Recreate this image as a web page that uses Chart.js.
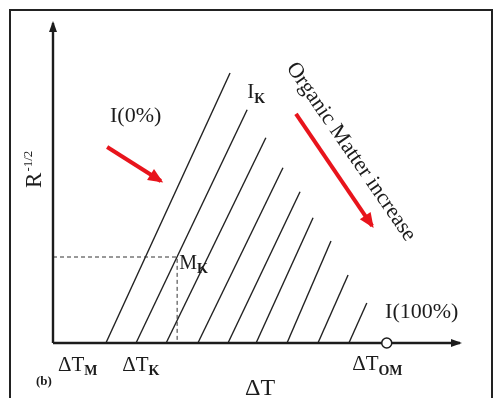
<!DOCTYPE html>
<html>
<head>
<meta charset="utf-8">
<script src="https://cdn.jsdelivr.net/npm/chart.js@4"></script>
<style>
  html, body { margin: 0; padding: 0; background: #fff; }
  canvas { display: block; }
</style>
</head>
<body>
<canvas id="chart" width="493" height="398"></canvas>
<script>
// x = ΔT, y = R^-1/2 (arbitrary units)
const xMax = 10;
const yMax = 8;

// iso-organic-matter lines: foot on the ΔT axis, top end
const lineBaseX = [1.30, 2.04, 2.78, 3.56, 4.30, 4.99, 5.75, 6.51, 7.27];
const lineTopX  = [4.35, 4.77, 5.23, 5.65, 6.07, 6.39, 6.83, 7.25, 7.71];
const lineTopY  = [6.75, 5.83, 5.13, 4.38, 3.78, 3.13, 2.55, 1.70, 1.00];

// point M_K on line I_K, and ΔT_OM
const mkX = 3.05;
const mkY = 2.15;
const omX = 8.2;

// red arrows [from, to]
const arrow1 = [[1.33, 4.90], [2.65, 4.05]];
const arrow2 = [[5.97, 5.73], [7.84, 2.93]];

const INK = "#1c1c1c";
const RED = "#e8141c";
const SERIF = '"Liberation Serif", "DejaVu Serif", serif';

const datasets = [];

// ΔT_OM open circle (first = drawn on top)
datasets.push({
    data: [{ x: omX, y: 0 }],
    showLine: false,
    pointRadius: 5,
    pointBackgroundColor: "#fff",
    pointBorderColor: INK,
    pointBorderWidth: 1.5
});

// axes
datasets.push({
    data: [{ x: 0, y: 0 }, { x: xMax, y: 0 }],
    borderColor: INK, borderWidth: 2.4, arrowHead: [11, 8]
});
datasets.push({
    data: [{ x: 0, y: 0 }, { x: 0, y: yMax }],
    borderColor: INK, borderWidth: 2.4, arrowHead: [11, 8]
});

// dashed guide to M_K
datasets.push({
    data: [{ x: 0, y: mkY }, { x: mkX, y: mkY }, { x: mkX, y: 0 }],
    borderColor: "#333", borderWidth: 1, borderDash: [4, 3]
});

// the family of lines
lineBaseX.forEach((bx, i) => {
    datasets.push({
        data: [{ x: bx, y: 0 }, { x: lineTopX[i], y: lineTopY[i] }],
        borderColor: "#222", borderWidth: 1.4
    });
});

// red arrows
[arrow1, arrow2].forEach(a => {
    datasets.push({
        data: a.map(p => ({ x: p[0], y: p[1] })),
        borderColor: RED, borderWidth: 4, arrowHead: [15, 13]
    });
});

datasets.forEach(ds => {
    ds.showLine = ds.showLine !== false;
    if (ds.pointRadius === undefined) ds.pointRadius = 0;
    ds.clip = false;
    ds.borderCapStyle = "butt";
});

/* -----------------------
   PLUGINS
------------------------ */
const frame = {
    id: "frame",
    beforeDraw(chart) {
        const ctx = chart.ctx;
        ctx.save();
        ctx.fillStyle = "#fff";
        ctx.fillRect(0, 0, chart.width, chart.height);
        ctx.strokeStyle = "#222";
        ctx.lineWidth = 2;
        ctx.strokeRect(10, 10, 482, 400);
        ctx.restore();
    }
};

const arrowHeads = {
    id: "arrowHeads",
    afterDatasetsDraw(chart) {
        const ctx = chart.ctx;
        chart.data.datasets.forEach((ds, i) => {
            if (!ds.arrowHead) return;
            const pts = chart.getDatasetMeta(i).data;
            const a = pts[pts.length - 2], b = pts[pts.length - 1];
            const ang = Math.atan2(b.y - a.y, b.x - a.x);
            const L = ds.arrowHead[0], W = ds.arrowHead[1];
            const push = ds.borderWidth * L / W * 0.6;
            ctx.save();
            ctx.translate(b.x, b.y);
            ctx.rotate(ang);
            ctx.beginPath();
            ctx.moveTo(push, 0);
            ctx.lineTo(push - L, -W / 2);
            ctx.lineTo(push - L, W / 2);
            ctx.closePath();
            ctx.fillStyle = ds.borderColor;
            ctx.fill();
            ctx.restore();
        });
    }
};

function subText(ctx, x, y, main, sub, size, subSize, drop) {
    ctx.font = size + "px " + SERIF;
    ctx.fillText(main, x, y);
    const w = ctx.measureText(main).width;
    if (sub) {
        ctx.font = "bold " + subSize + "px " + SERIF;
        ctx.fillText(sub, x + w, y + drop);
    }
}

const labels = {
    id: "labels",
    afterDraw(chart) {
        const ctx = chart.ctx;
        const sx = chart.scales.x, sy = chart.scales.y;
        const X = v => sx.getPixelForValue(v);
        const Y = v => sy.getPixelForValue(v);
        ctx.save();
        ctx.fillStyle = INK;
        ctx.textAlign = "left";
        ctx.textBaseline = "alphabetic";

        subText(ctx, X(1.40), Y(5.53), "I(0%)", null, 22);
        subText(ctx, X(4.77), Y(6.13), "I", "K", 21, 14, 5);
        subText(ctx, X(3.10), Y(1.85), "M", "K", 20, 14, 4);
        subText(ctx, X(8.16), Y(0.63), "I(100%)", null, 22);
        subText(ctx, X(0.12), Y(-0.70), "ΔT", "M", 21, 14, 4);
        subText(ctx, X(1.70), Y(-0.70), "ΔT", "K", 21, 14, 4);
        subText(ctx, X(7.35), Y(-0.68), "ΔT", "OM", 21, 14, 5);
        subText(ctx, X(4.72), Y(-1.30), "ΔT", null, 24);

        ctx.font = "bold 13px " + SERIF;
        ctx.fillText("(b)", X(-0.42), Y(-1.05));

        // y-axis title R^-1/2
        ctx.save();
        ctx.translate(X(-0.49), Y(4.33));
        ctx.rotate(-Math.PI / 2);
        ctx.font = "23px " + SERIF;
        const rw = ctx.measureText("R").width;
        ctx.font = "13px " + SERIF;
        const sw = ctx.measureText("-1/2").width;
        const x0 = -(rw + sw) / 2;
        ctx.font = "23px " + SERIF;
        ctx.fillText("R", x0, 8);
        ctx.font = "13px " + SERIF;
        ctx.fillText("-1/2", x0 + rw + 1, -1);
        ctx.restore();

        // rotated note
        ctx.save();
        ctx.translate(X(7.32), Y(4.78));
        ctx.rotate(55.4 * Math.PI / 180);
        ctx.font = "22px " + SERIF;
        ctx.textAlign = "center";
        ctx.textBaseline = "middle";
        ctx.fillText("Organic Matter increase", 0, 0);
        ctx.restore();

        ctx.restore();
    }
};

new Chart(document.getElementById("chart"), {
    type: "scatter",
    data: { datasets },
    options: {
        responsive: false,
        animation: false,
        layout: { padding: { left: 53, right: 33, top: 23, bottom: 55 } },
        plugins: { legend: { display: false }, tooltip: { enabled: false } },
        scales: {
            x: { type: "linear", min: 0, max: xMax, display: false },
            y: { type: "linear", min: 0, max: yMax, display: false }
        }
    },
    plugins: [frame, arrowHeads, labels]
});
</script>
</body>
</html>
